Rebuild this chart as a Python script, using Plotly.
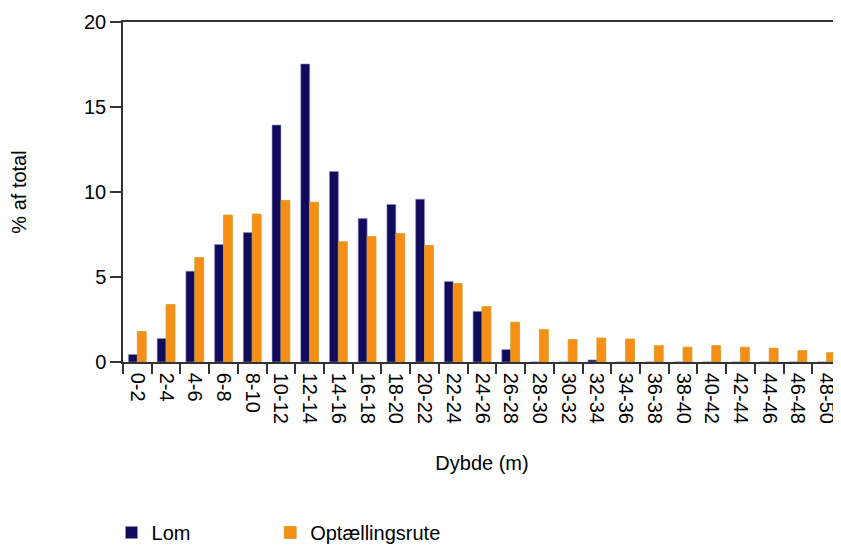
import plotly.graph_objects as go

categories = ["0-2", "2-4", "4-6", "6-8", "8-10", "10-12", "12-14", "14-16", "16-18",
              "18-20", "20-22", "22-24", "24-26", "26-28", "28-30", "30-32", "32-34",
              "34-36", "36-38", "38-40", "40-42", "42-44", "44-46", "46-48", "48-50"]
lom = [0.44, 1.38, 5.34, 6.91, 7.62, 13.94, 17.53, 11.21, 8.44, 9.27, 9.58, 4.73,
       2.98, 0.73, 0, 0, 0.12, 0, 0, 0, 0, 0, 0, 0, 0]
optaelling = [1.79, 3.38, 6.15, 8.64, 8.70, 9.50, 9.40, 7.07, 7.38, 7.56, 6.85, 4.62,
              3.26, 2.34, 1.91, 1.32, 1.41, 1.35, 0.96, 0.87, 0.96, 0.87, 0.81, 0.67, 0.55]
y_ticks = [0, 5, 10, 15, 20]

FONT = "Liberation Sans, Arial, Helvetica, sans-serif"

fig = go.Figure()
fig.add_trace(go.Bar(x=categories, y=lom, name="Lom", legend="legend",
                     marker=dict(color="#110b5c", line=dict(color="#8f8cc0", width=0.6))))
fig.add_trace(go.Bar(x=categories, y=optaelling, name="Optællingsrute", legend="legend2",
                     marker=dict(color="#f78f16", line=dict(color="#cf9a2a", width=0.8))))

leg_common = dict(orientation="h", xanchor="left", y=-0.444, yanchor="top",
                  font=dict(size=20), itemwidth=30, bgcolor="rgba(0,0,0,0)")

# page body has an 8px margin, so the figure is sized/offset to compensate
fig.update_layout(
    width=833, height=538,
    margin=dict(l=115, r=0, t=14, b=184, autoexpand=False),
    paper_bgcolor="white", plot_bgcolor="white",
    font=dict(family=FONT, size=20, color="black"),
    barmode="group", bargap=0.38, bargroupgap=0,
    showlegend=True,
    legend=dict(x=-0.016, **leg_common),
    legend2=dict(x=0.205, **leg_common),
)
fig.update_xaxes(
    type="category", showline=True, linecolor="#333333", linewidth=1.5, mirror=True,
    ticks="outside", tickson="boundaries", ticklen=10, tickcolor="#333333", tickwidth=1.5,
    tickangle=90, tickfont=dict(size=20), showgrid=False, automargin=False,
    ticklabelstandoff=5,
    title=dict(text="Dybde (m)", font=dict(size=20), standoff=33),
)
fig.update_yaxes(
    range=[0, 20], tickvals=y_ticks, showline=True, linecolor="#333333", linewidth=1.5,
    ticks="outside", ticklen=11, tickcolor="#333333", tickwidth=1.5, showgrid=False,
    zeroline=False, tickfont=dict(size=20), automargin=False,
    title=dict(text="% af total", font=dict(size=20), standoff=61),
)

fig.write_html("out.html")
